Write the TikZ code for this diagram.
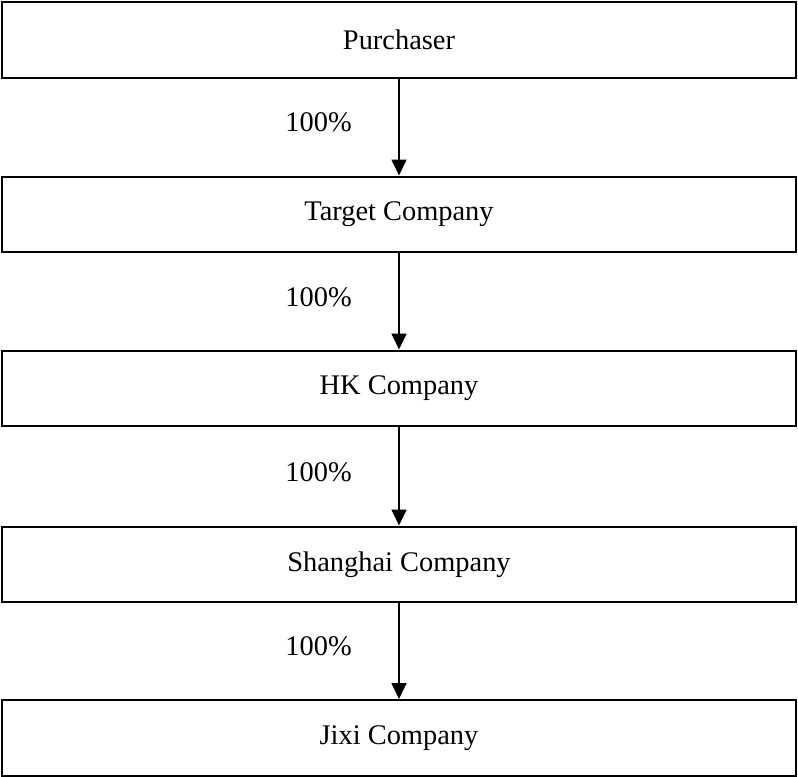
\documentclass[tikz,border=0pt]{standalone}
\usepackage{fontspec}
\setmainfont{Liberation Serif}
\usetikzlibrary{arrows.meta}

\tikzset{
  company/.style={draw, line width=0.9pt, minimum width=349pt, minimum height=33.4pt, inner sep=0pt, font=\fontsize{12.5}{15}\selectfont},
  share/.style={line width=0.9pt, -{Triangle[length=7pt,width=6.5pt]}},
  pct/.style={midway, left=17pt, yshift=2pt, font=\fontsize{12.5}{15}\selectfont}
}

\begin{document}
\begin{tikzpicture}[x=0.44pt, y=-0.44pt]
\useasboundingbox (0,0) rectangle (798,776);

\node[company] (purchaser) at (399,40)    {Purchaser};
\node[company] (target)    at (399,214.5) {Target Company};
\node[company] (hk)        at (399,388.5) {HK Company};
\node[company] (shanghai)  at (399,564.5) {Shanghai Company};
\node[company] (jixi)      at (399,738)   {Jixi Company};

\draw[share] (purchaser.south) -- (target.north)   node[pct] (p1) {100\%};
\draw[share] (target.south)    -- (hk.north)       node[pct] (p2) {100\%};
\draw[share] (hk.south)        -- (shanghai.north) node[pct] (p3) {100\%};
\draw[share] (shanghai.south)  -- (jixi.north)     node[pct] (p4) {100\%};

\end{tikzpicture}
\end{document}
